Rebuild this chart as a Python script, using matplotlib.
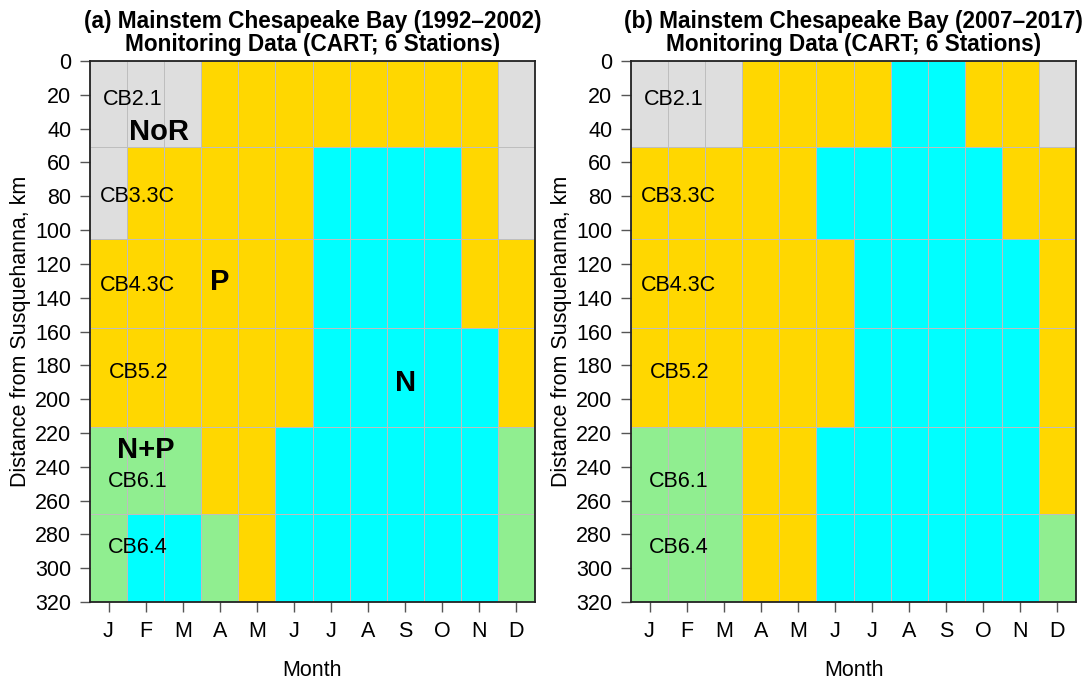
import matplotlib
matplotlib.use("Agg")
import matplotlib.pyplot as plt
import numpy as np
from matplotlib.colors import ListedColormap

plt.rcParams['font.family'] = ['Liberation Sans', 'DejaVu Sans']

months = ["J", "F", "M", "A", "M", "J", "J", "A", "S", "O", "N", "D"]
stations = ["CB2.1", "CB3.3C", "CB4.3C", "CB5.2", "CB6.1", "CB6.4"]
station_bounds = [0, 51, 105.5, 158, 216.5, 268, 320]
station_label_km = [23, 80, 132.5, 184.5, 249, 288]
station_label_month = [1.65, 1.78, 1.78, 1.8, 1.78, 1.78]

# G = NoR (grey), P = P-limited (gold), N = N-limited (cyan), B = N+P (green)
panel_a = [
    "GGGPPPPPPPPG",
    "GPPPPPNNNNPG",
    "PPPPPPNNNNPP",
    "PPPPPPNNNNNP",
    "BBBPPNNNNNNB",
    "BNNBPNNNNNNB",
]
panel_b = [
    "GGGPPPPNNPPG",
    "PPPPPNNNNNPP",
    "PPPPPPNNNNNP",
    "PPPPPPNNNNNP",
    "BBBPPNNNNNNP",
    "BBBPPNNNNNNB",
]
titles = ["(a) Mainstem Chesapeake Bay (1992\u20132002)\nMonitoring Data (CART; 6 Stations)",
          "(b) Mainstem Chesapeake Bay (2007\u20132017)\nMonitoring Data (CART; 6 Stations)"]
region_labels = [("NoR", 2.35, 42), ("P", 4.0, 130.5), ("N", 9.0, 190.5), ("N+P", 2.0, 230)]

code_order = "GPNB"
cmap = ListedColormap(["#DEDEDE", "#FFD700", "#00FFFF", "#90EE90"])

fig = plt.figure(figsize=(10.86, 6.83), dpi=100)
lefts = [90 / 1086, 631 / 1086]
width = 445 / 1086
bottom = 1 - 602 / 683
height = (602 - 61) / 683
fs = 15.5

for i, (grid, title) in enumerate(zip([panel_a, panel_b], titles)):
    ax = fig.add_axes([lefts[i], bottom, width, height])
    vals = np.array([[code_order.index(c) for c in row] for row in grid])
    xedges = np.arange(len(months) + 1) + 0.5
    ax.pcolormesh(xedges, station_bounds, vals, cmap=cmap, vmin=-0.5, vmax=3.5,
                  edgecolors="#BEBEBE", linewidth=0.7)
    ax.set_xlim(0.5, 12.5)
    ax.set_ylim(320, 0)
    ax.set_xticks(np.arange(1, 13))
    ax.set_xticklabels(months)
    ax.set_yticks(np.arange(0, 321, 20))
    ax.tick_params(axis="both", labelsize=fs, length=7.5, width=1, color="#555555")
    ax.tick_params(axis="y", pad=6)
    ax.tick_params(axis="x", pad=6)
    for s in ax.spines.values():
        s.set_color("#222222")
        s.set_linewidth(1.3)
    ax.set_xlabel("Month", fontsize=fs, labelpad=13)
    ax.set_ylabel("Distance from Susquehanna, km", fontsize=fs, labelpad=3)
    ax.set_title(title, fontsize=16.3, fontweight="bold", linespacing=1.0, pad=7)
    for name, xm, km in zip(stations, station_label_month, station_label_km):
        ax.text(xm, km, name, fontsize=fs, ha="center", va="center")
    if i == 0:
        for txt, xm, km in region_labels:
            ax.text(xm, km, txt, fontsize=21, fontweight="bold", ha="center", va="center")

fig.savefig("out.png", dpi=100)
